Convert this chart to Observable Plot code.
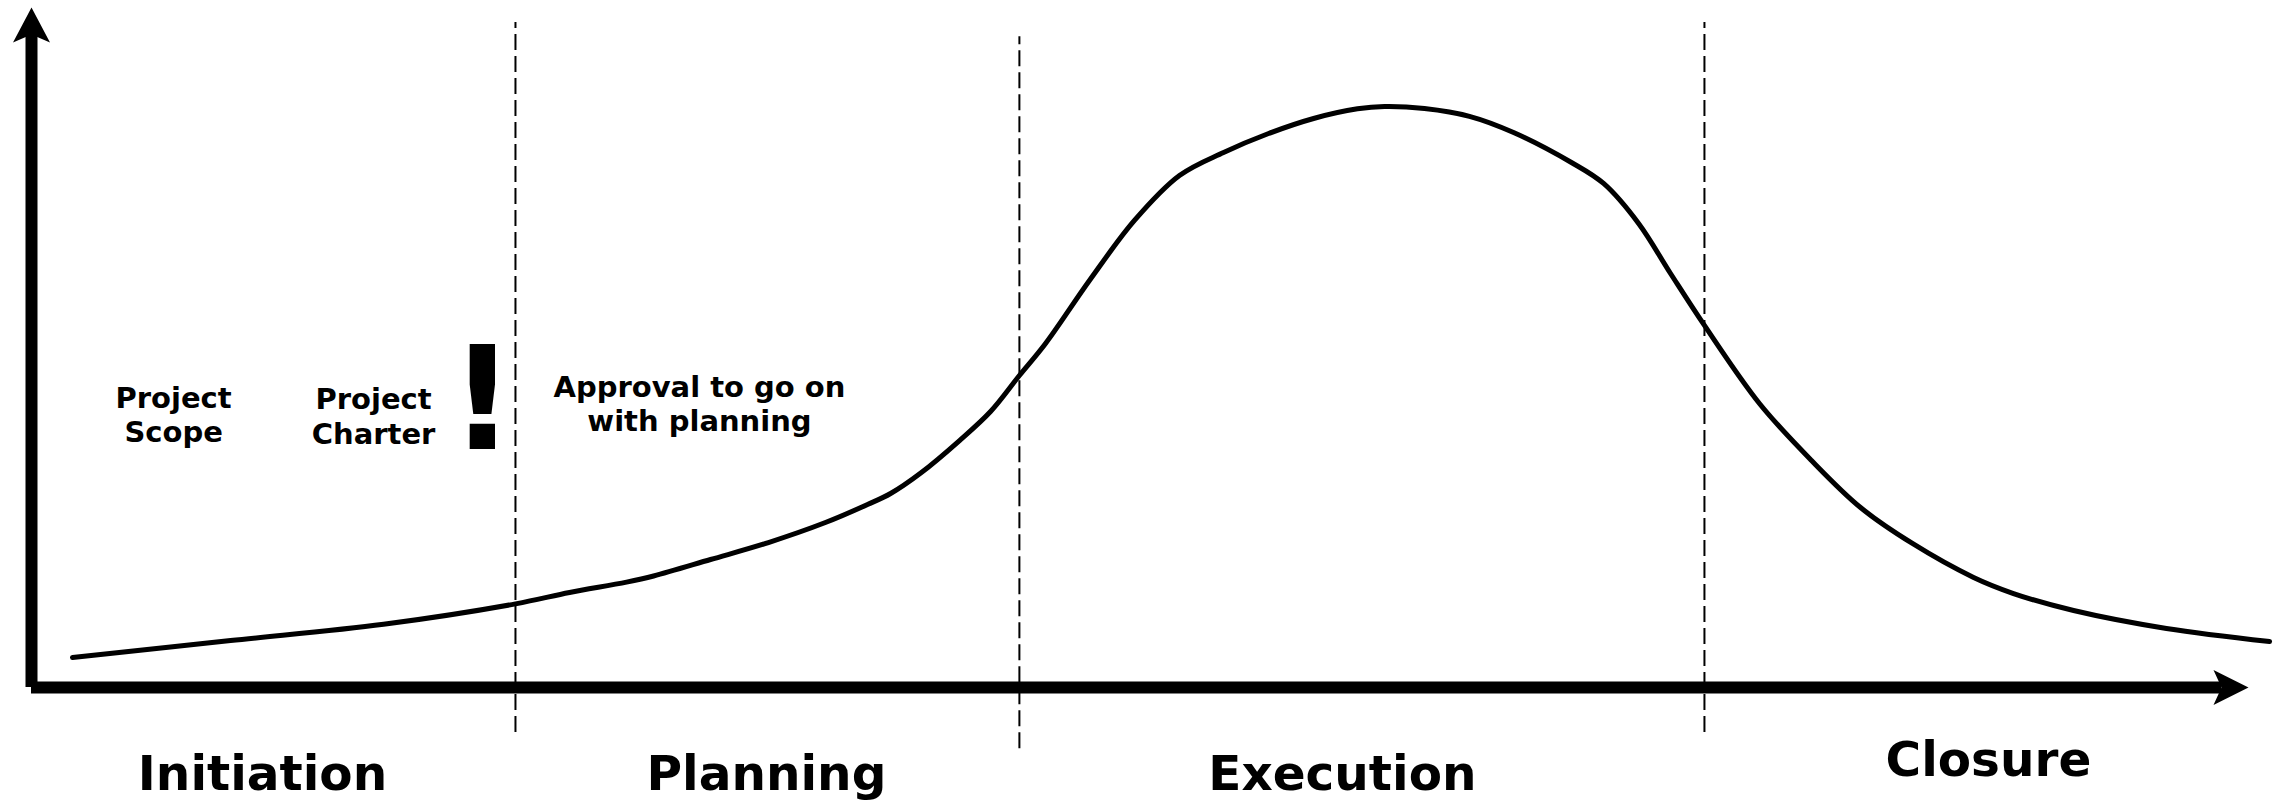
<!DOCTYPE html>
<html>
<head>
<meta charset="utf-8">
<script src="https://cdn.jsdelivr.net/npm/d3@7"></script>
<script src="https://cdn.jsdelivr.net/npm/@observablehq/plot@0.6"></script>
<style>
  html, body { margin: 0; padding: 0; background: #fff; overflow: hidden; }
  #chart svg { display: block; }
</style>
</head>
<body>
<div id="chart"></div>
<script>
// Project life-cycle effort curve (time 0..100, effort 0..100)
const curveTime = [1.85, 8.98, 15.88, 21.83, 24.27, 26.84, 28.06, 30.63, 33.24, 35.81, 37.71, 38.75,
  40.14, 41.86, 43.26, 44.56, 45.74, 47.72, 49.75, 51.78, 53.77, 55.80, 57.83, 59.81, 61.03, 62.83,
  64.86, 66.85, 69.46, 70.91, 72.49, 73.93, 75.46, 77.94, 80.29, 82.50, 84.84, 87.60, 89.40, 92.11,
  96.30, 100.95];
const curveEffort = [4.41, 6.9, 9.3, 12.3, 13.97, 15.5, 16.4, 18.82, 21.32, 24.26, 26.91, 28.53,
  31.62, 36.32, 40.59, 45.88, 50.59, 59.85, 68.68, 75.29, 78.68, 81.47, 83.68, 85.1, 85.45, 85.15,
  84.0, 81.62, 77.21, 74.12, 68.24, 60.88, 53.24, 41.76, 33.38, 26.47, 21.18, 16.18, 13.82, 11.32,
  8.68, 6.76];

// Phase boundaries (dashed lines)
const boundaryTime = [21.83, 44.56, 75.46];
const boundaryLow = [-6.6, -9.0, -6.6];
const boundaryHigh = [97.8, 95.7, 97.8];

// Phase labels
const phaseNames = ["Initiation", "Planning", "Execution", "Closure"];
const phaseLabelTime = [10.42, 33.15, 59.13, 88.27];
const phaseLabelLevel = [-12.8, -12.8, -12.8, -10.7];

// Annotations
const noteTexts = ["Project\nScope", "Project\nCharter", "Approval to go on\nwith planning"];
const noteTime = [6.41, 15.43, 30.13];
const noteLevel = [40.2, 40.0, 41.8];
const alertText = ["!"];
const alertTime = [20.34];
const alertLevel = [41.9];

// Axis extents
const axisMax = [100];

const curve = curveTime.map((t, i) => ({t, e: curveEffort[i]}));
const bounds = boundaryTime.map((t, i) => ({t, lo: boundaryLow[i], hi: boundaryHigh[i]}));
const phases = phaseNames.map((name, i) => ({name, t: phaseLabelTime[i], e: phaseLabelLevel[i]}));
const notes = noteTexts.map((text, i) => ({text, t: noteTime[i], e: noteLevel[i]}));
const alerts = alertText.map((text, i) => ({text, t: alertTime[i], e: alertLevel[i]}));

const arrowUp = {draw(ctx) { ctx.moveTo(0, 0); ctx.lineTo(18.5, 35); ctx.lineTo(0, 27); ctx.lineTo(-18.5, 35); ctx.closePath(); }};
const arrowRight = {draw(ctx) { ctx.moveTo(0, 0); ctx.lineTo(-35, -17.5); ctx.lineTo(-27, 0); ctx.lineTo(-35, 17.5); ctx.closePath(); }};

const font = "DejaVu Sans";

const chart = Plot.plot({
  width: 2282,
  height: 800,
  marginLeft: 31,
  marginRight: 34,
  marginTop: 7,
  marginBottom: 113,
  x: {domain: [0, axisMax[0]], axis: null},
  y: {domain: [0, axisMax[0]], axis: null},
  style: {background: "#fff"},
  marks: [
    Plot.ruleX(bounds, {x: "t", y1: "lo", y2: "hi", stroke: "black", strokeWidth: 2, strokeDasharray: "16,6"}),
    Plot.ruleX([0], {y1: 0, y2: axisMax[0] - 3.5, stroke: "black", strokeWidth: 12}),
    Plot.ruleY([0], {x1: 0, x2: axisMax[0] - 1.2, stroke: "black", strokeWidth: 12}),
    Plot.dot([{t: 0, e: axisMax[0]}], {x: "t", y: "e", symbol: arrowUp, fill: "black", r: 10}),
    Plot.dot([{t: axisMax[0], e: 0}], {x: "t", y: "e", symbol: arrowRight, fill: "black", r: 10}),
    Plot.line(curve, {x: "t", y: "e", curve: "catmull-rom", stroke: "black", strokeWidth: 5, strokeLinejoin: "round"}),
    Plot.text(notes, {x: "t", y: "e", text: "text", fontSize: 29, fontWeight: "bold", fontFamily: font, lineHeight: 1.18, textAnchor: "middle", lineAnchor: "middle", fill: "black"}),
    Plot.text(alerts, {x: "t", y: "e", text: "text", fontSize: 144, fontWeight: "bold", fontFamily: font, textAnchor: "middle", lineAnchor: "middle", fill: "black"}),
    Plot.text(phases, {x: "t", y: "e", text: "name", fontSize: 48.5, fontWeight: "bold", fontFamily: font, textAnchor: "middle", lineAnchor: "middle", fill: "black"})
  ]
});
document.getElementById("chart").append(chart);
</script>
</body>
</html>
